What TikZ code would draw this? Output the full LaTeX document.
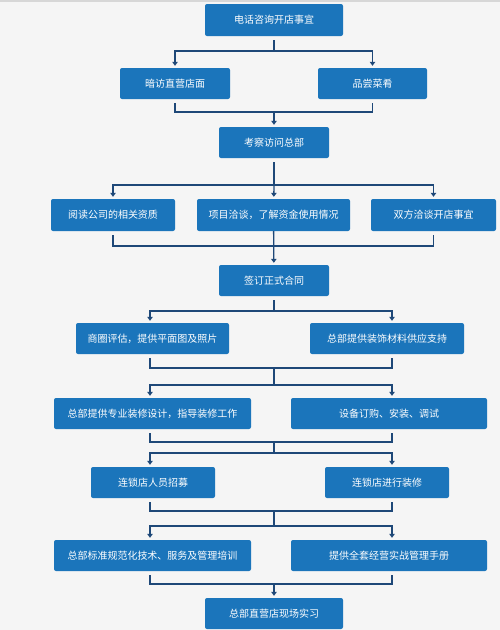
\documentclass[tikz,border=0pt]{standalone}
\usepackage{fontspec}
\setmainfont{Noto Sans CJK SC}
\usetikzlibrary{arrows.meta,calc}
\definecolor{boxblue}{RGB}{27,117,187}
\definecolor{linenavy}{RGB}{30,72,120}
\definecolor{bg}{RGB}{245,245,245}
\definecolor{topline}{RGB}{215,215,215}
\tikzset{
  stepbox/.style={fill=boxblue, draw=none, rounded corners=2pt, text=white,
    font=\fontsize{10}{12}\selectfont, inner sep=0pt, minimum height=31pt},
  link/.style={draw=linenavy, line width=1.3pt},
  arr/.style={link, -{Triangle[width=5.5pt,length=4pt]}, shorten >=2pt},
  gap/.style={shorten <=4pt},
}
\begin{document}
\begin{tikzpicture}[x=1pt,y=-1pt]
\fill[bg] (0,0) rectangle (500,630);
\useasboundingbox (0,0) rectangle (500,630);
\fill[topline] (0,0) rectangle (500,1.5);

\coordinate (L) at (150,0);
\coordinate (R) at (392,0);

\node[stepbox, minimum width=138pt, minimum height=32pt] (b1) at (274,20) {电话咨询开店事宜};
\node[stepbox, minimum width=110pt] (b2a) at (175,83.5) {暗访直营店面};
\node[stepbox, minimum width=109pt] (b2b) at (372.5,83.5) {品尝菜肴};
\node[stepbox, minimum width=110pt] (b3) at (274,142.5) {考察访问总部};
\node[stepbox, minimum width=124pt, minimum height=32pt] (b4a) at (113,215) {阅读公司的相关资质};
\node[stepbox, minimum width=153pt, minimum height=32pt] (b4b) at (273.5,215) {项目洽谈，了解资金使用情况};
\node[stepbox, minimum width=125pt, minimum height=32pt] (b4c) at (433.5,215) {双方洽谈开店事宜};
\node[stepbox, minimum width=110pt] (b5) at (274,280.5) {签订正式合同};
\node[stepbox, minimum width=153pt] (b6a) at (152.5,338.5) {商圈评估，提供平面图及照片};
\node[stepbox, minimum width=154pt] (b6b) at (387,338.5) {总部提供装饰材料供应支持};
\node[stepbox, minimum width=197pt] (b7a) at (152.5,413.5) {总部提供专业装修设计，指导装修工作};
\node[stepbox, minimum width=196pt] (b7b) at (389,413.5) {设备订购、安装、调试};
\node[stepbox, minimum width=124pt] (b8a) at (153,482.5) {连锁店人员招募};
\node[stepbox, minimum width=124pt] (b8b) at (387,482.5) {连锁店进行装修};
\node[stepbox, minimum width=197pt] (b9a) at (152.5,555.5) {总部标准规范化技术、服务及管理培训};
\node[stepbox, minimum width=196pt] (b9b) at (389,555.5) {提供全套经营实战管理手册};
\node[stepbox, minimum width=138pt] (b10) at (274,613.5) {总部直营店现场实习};

% junctions
\coordinate (j1) at (274,51);
\coordinate (m2) at (274,112);
\coordinate (j3) at (274,185);
\coordinate (m4) at (274,246);
\coordinate (j5) at (274,311);
\coordinate (m6) at (274,368);
\coordinate (j6) at (274,385);
\coordinate (m7) at (274,442);
\coordinate (j7) at (274,453);
\coordinate (m8) at (274,511);
\coordinate (j8) at (274,526);
\coordinate (m9) at (274,584);

% row 1 -> 2
\draw[link, gap] (b1) -- (j1);
\draw[arr] (j1) -| (b2a);
\draw[arr] (j1) -| (b2b);
% row 2 -> 3
\draw[link, gap, shorten >=4pt] (b2a) |- (m2) -| (b2b);
\draw[arr] (m2) -- (b3);
% row 3 -> 4
\draw[link, gap] (b3) -- (j3);
\draw[arr] (j3) -| (b4a);
\draw[arr] (j3) -- (b4b);
\draw[arr] (j3) -| (b4c);
% row 4 -> 5
\draw[link, gap, shorten >=4pt] (b4a) |- (m4) -| (b4c);
\draw[arr] (b4b) -- (b5);
% row 5 -> 6
\draw[link, gap] (b5) -- (j5);
\draw[arr] (j5) -| (b6a.north -| L);
\draw[arr] (j5) -| (b6b.north -| R);
% row 6 -> 7
\draw[link, gap, shorten >=4pt] (b6a.south -| L) |- (m6) -| (b6b.south -| R);
\draw[link] (m6) -- (j6);
\draw[arr] (j6) -| (b7a.north -| L);
\draw[arr] (j6) -| (b7b.north -| R);
% row 7 -> 8
\draw[link, gap, shorten >=4pt] (b7a.south -| L) |- (m7) -| (b7b.south -| R);
\draw[link] (m7) -- (j7);
\draw[arr] (j7) -| (b8a.north -| L);
\draw[arr] (j7) -| (b8b.north -| R);
% row 8 -> 9
\draw[link, gap, shorten >=4pt] (b8a.south -| L) |- (m8) -| (b8b.south -| R);
\draw[link] (m8) -- (j8);
\draw[arr] (j8) -| (b9a.north -| L);
\draw[arr] (j8) -| (b9b.north -| R);
% row 9 -> 10
\draw[link, gap, shorten >=4pt] (b9a.south -| L) |- (m9) -| (b9b.south -| R);
\draw[arr] (m9) -- (b10);
\end{tikzpicture}
\end{document}
